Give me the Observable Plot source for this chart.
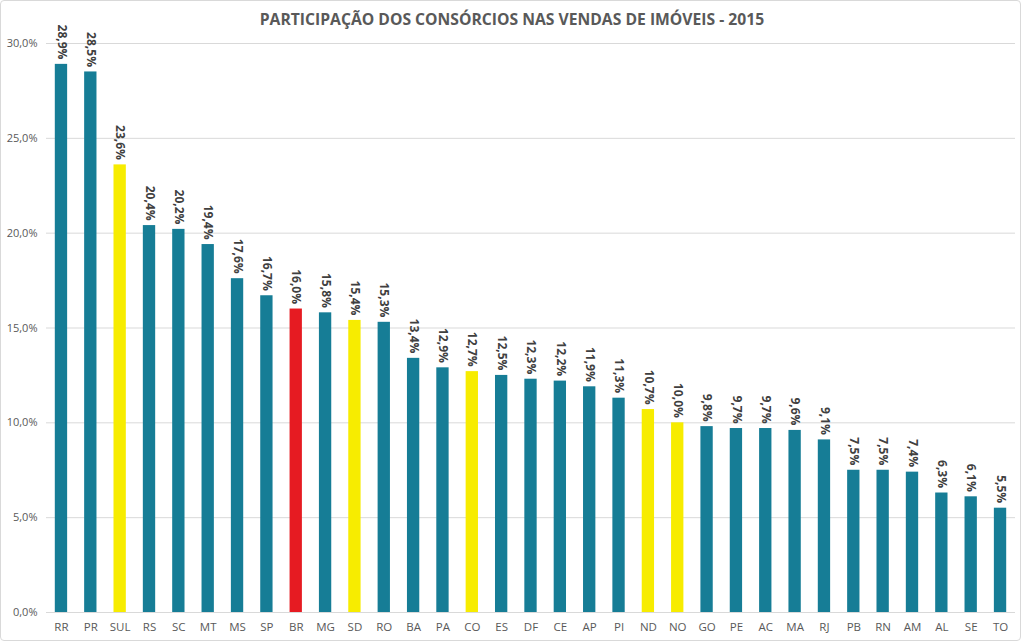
<!DOCTYPE html>
<html>
<head>
<meta charset="utf-8">
<script src="https://cdn.jsdelivr.net/npm/d3@7"></script>
<script src="https://cdn.jsdelivr.net/npm/@observablehq/plot@0.6"></script>
<style>
  html, body { margin: 0; padding: 0; background: #fff; }
  #wrap { position: relative; width: 1024px; height: 641px; overflow: hidden; }
  #frame { position: absolute; left: 0; top: 0; width: 1019px; height: 639px; border: 1px solid #d9d9d9; border-radius: 4px; pointer-events: none; }
  #title { position: absolute; left: 0; width: 1024px; top: 8px; text-align: center;
           font-family: "Open Sans", "Noto Sans", sans-serif; font-weight: bold; font-size: 15.7px; color: #595959; }
  #chart { position: absolute; left: 0; top: 0; }
</style>
</head>
<body>
<div id="wrap">
  <div id="chart"></div>
  <div id="title">PARTICIPAÇÃO DOS CONSÓRCIOS NAS VENDAS DE IMÓVEIS - 2015</div>
  <div id="frame"></div>
</div>
<script>
const categories = ["RR","PR","SUL","RS","SC","MT","MS","SP","BR","MG","SD","RO","BA","PA","CO","ES","DF","CE","AP","PI","ND","NO","GO","PE","AC","MA","RJ","PB","RN","AM","AL","SE","TO"];
const values = [28.9,28.5,23.6,20.4,20.2,19.4,17.6,16.7,16.0,15.8,15.4,15.3,13.4,12.9,12.7,12.5,12.3,12.2,11.9,11.3,10.7,10.0,9.8,9.7,9.7,9.6,9.1,7.5,7.5,7.4,6.3,6.1,5.5];
const groups = ["estado","estado","região","estado","estado","estado","estado","estado","brasil","estado","região","estado","estado","estado","região","estado","estado","estado","estado","estado","região","região","estado","estado","estado","estado","estado","estado","estado","estado","estado","estado","estado"];
const yTicks = [0,5,10,15,20,25,30];

const data = categories.map((c, i) => ({cat: c, value: values[i], group: groups[i]}));
const fmt = v => v.toFixed(1).replace(".", ",") + "%";

const chart = Plot.plot({
  width: 1024,
  height: 641,
  marginLeft: 46,
  marginRight: 9,
  marginTop: 43,
  marginBottom: 29,
  style: {fontFamily: "'Open Sans', 'Noto Sans', sans-serif", background: "transparent"},
  x: {domain: categories, paddingInner: 0.58, paddingOuter: 0.3, round: false, label: null, tickSize: 0, tickPadding: 10},
  y: {domain: [0, 30], ticks: yTicks, label: null, tickSize: 0, tickPadding: 9, tickFormat: fmt},
  color: {domain: ["estado","região","brasil"], range: ["#167d96","#f7ec00","#e61b22"]},
  marks: [
    Plot.ruleY(yTicks, {stroke: "#d9d9d9", strokeWidth: 1}),
    Plot.barY(data, {x: "cat", y: "value", fill: "group"}),
    Plot.text(data, {x: "cat", y: "value", text: d => fmt(d.value), rotate: 90, textAnchor: "end", lineAnchor: "middle", dy: -5, fontWeight: "bold", fontSize: 12, fill: "#404040"}),
    Plot.axisX({tickSize: 0, tickPadding: 10, fontSize: 11.5, color: "#595959", label: null}),
    Plot.axisY({ticks: yTicks, tickFormat: fmt, tickSize: 0, tickPadding: 9, fontSize: 11, color: "#595959", label: null})
  ]
});
document.getElementById("chart").appendChild(chart);
</script>
</body>
</html>
